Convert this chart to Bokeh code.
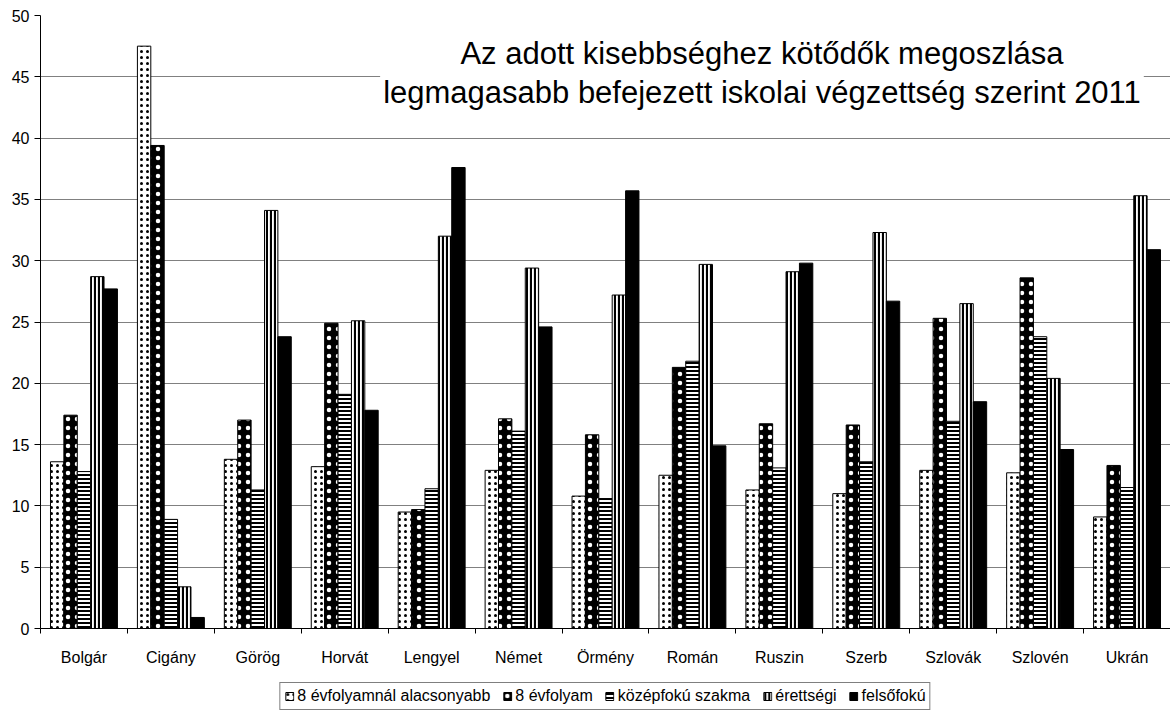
from bokeh.plotting import figure
from bokeh.models import ColumnDataSource, Range1d, FixedTicker, Legend, LegendItem, Label
from bokeh.layouts import column
from bokeh.transform import dodge
from bokeh.embed import file_html
from bokeh.resources import INLINE

categories = ["Bolgár", "Cigány", "Görög", "Horvát", "Lengyel", "Német", "Örmény",
              "Román", "Ruszin", "Szerb", "Szlovák", "Szlovén", "Ukrán"]
series_names = ["8 évfolyamnál alacsonyabb", "8 évfolyam", "középfokú szakma", "érettségi", "felsőfokú"]
below_8 = [13.6, 47.5, 13.8, 13.2, 9.5, 12.9, 10.8, 12.5, 11.3, 11.0, 12.9, 12.7, 9.1]
grade_8 = [17.4, 39.4, 17.0, 24.9, 9.7, 17.1, 15.8, 21.3, 16.7, 16.6, 25.3, 28.6, 13.3]
vocational = [12.8, 8.9, 11.3, 19.1, 11.4, 16.1, 10.6, 21.8, 13.1, 13.6, 16.9, 23.8, 11.5]
matura = [28.7, 3.4, 34.1, 25.1, 32.0, 29.4, 27.2, 29.7, 29.1, 32.3, 26.5, 20.4, 35.3]
higher = [27.7, 0.9, 23.8, 17.8, 37.6, 24.6, 35.7, 14.9, 29.8, 26.7, 18.5, 14.6, 30.9]
y_ticks = [0, 5, 10, 15, 20, 25, 30, 35, 40, 45, 50]
title_text = "Az adott kisebbséghez kötődők megoszlása\nlegmagasabb befejezett iskolai végzettség szerint 2011"

FONT = "Liberation Sans"
n = len(categories)
xi = list(range(1, n + 1))
src = ColumnDataSource(dict(x=xi, s0=below_8, s1=grade_8, s2=vocational, s3=matura, s4=higher))

p = figure(width=1170, height=668, output_backend="svg", toolbar_location=None,
           x_range=Range1d(0.5, n + 0.5), y_range=Range1d(0, 50),
           min_border_left=40, min_border_right=0, min_border_top=15, min_border_bottom=34)
p.outline_line_color = None
p.background_fill_color = "white"

bw = 0.154
styles = [
    dict(fill_color="white", hatch_pattern="dot", hatch_color="black", hatch_scale=6, hatch_weight=0.5),
    dict(fill_color="black", hatch_pattern="dot", hatch_color="white", hatch_scale=9, hatch_weight=0.6),
    dict(fill_color="white", hatch_pattern="horizontal_line", hatch_color="black", hatch_scale=4, hatch_weight=2),
    dict(fill_color="white", hatch_pattern="vertical_line", hatch_color="black", hatch_scale=4, hatch_weight=2.2),
    dict(fill_color="black"),
]
for i in range(5):
    p.vbar(x=dodge("x", (i - 2) * bw), top="s%d" % i, width=bw, bottom=0, source=src,
           line_color="black", line_width=1, **styles[i])

# axes
p.xaxis.ticker = FixedTicker(ticks=xi, minor_ticks=[k + 0.5 for k in range(0, n + 1)])
p.xaxis.major_label_overrides = {k: c for k, c in zip(xi, categories)}
p.xaxis.major_tick_out = 0
p.xaxis.major_tick_in = 0
p.xaxis.minor_tick_out = 5
p.xaxis.minor_tick_in = 0
p.xaxis.minor_tick_line_color = "black"
p.xaxis.axis_line_color = "black"
p.xaxis.major_label_text_font = FONT
p.xaxis.major_label_text_font_size = "16px"
p.xaxis.major_label_text_color = "black"
p.xaxis.major_label_standoff = 15

p.yaxis.ticker = FixedTicker(ticks=y_ticks)
p.yaxis.minor_tick_line_color = None
p.yaxis.major_tick_out = 6
p.yaxis.major_tick_in = 0
p.yaxis.axis_line_color = "black"
p.yaxis.major_label_text_font = FONT
p.yaxis.major_label_text_font_size = "16px"
p.yaxis.major_label_text_color = "black"
p.yaxis.major_label_standoff = 5

p.xgrid.grid_line_color = None
p.ygrid.ticker = FixedTicker(ticks=y_ticks)
p.ygrid.grid_line_color = "#808080"
p.ygrid.grid_line_width = 1

title = Label(x=8.80, y=45.3, text=title_text, text_align="center", text_baseline="middle",
              text_font=FONT, text_font_size="31px", text_color="black",
              background_fill_color="white", padding=3, text_line_height=1.1)
p.add_layout(title)

# legend strip below the chart (legend-only renderers, hidden)
lf = figure(width=1170, height=45, output_backend="svg", toolbar_location=None,
            x_range=Range1d(0.5, n + 0.5), y_range=Range1d(0, 50),
            min_border_left=40, min_border_right=0, min_border_top=0, min_border_bottom=0,
            x_axis_type=None, y_axis_type=None)
lf.outline_line_color = None
lf.xgrid.visible = False
lf.ygrid.visible = False
legend_renderers = []
for i in range(5):
    r = lf.vbar(x=dodge("x", (i - 2) * bw), top="s%d" % i, width=bw, bottom=0, source=src,
                line_color="black", line_width=1, visible=False, **styles[i])
    legend_renderers.append(r)
items = [LegendItem(label=series_names[i], renderers=[legend_renderers[i]]) for i in range(5)]
legend = Legend(items=items, orientation="horizontal", location="bottom_center",
                label_text_font=FONT, label_text_font_size="16px", label_text_color="black",
                glyph_width=10, glyph_height=10, label_standoff=3, spacing=12,
                padding=4, margin=3, border_line_color="black", border_line_width=1,
                label_height=16, background_fill_color="white")
lf.add_layout(legend)

layout = column(p, lf, spacing=0)
open("out.html", "w").write(file_html(layout, INLINE))
